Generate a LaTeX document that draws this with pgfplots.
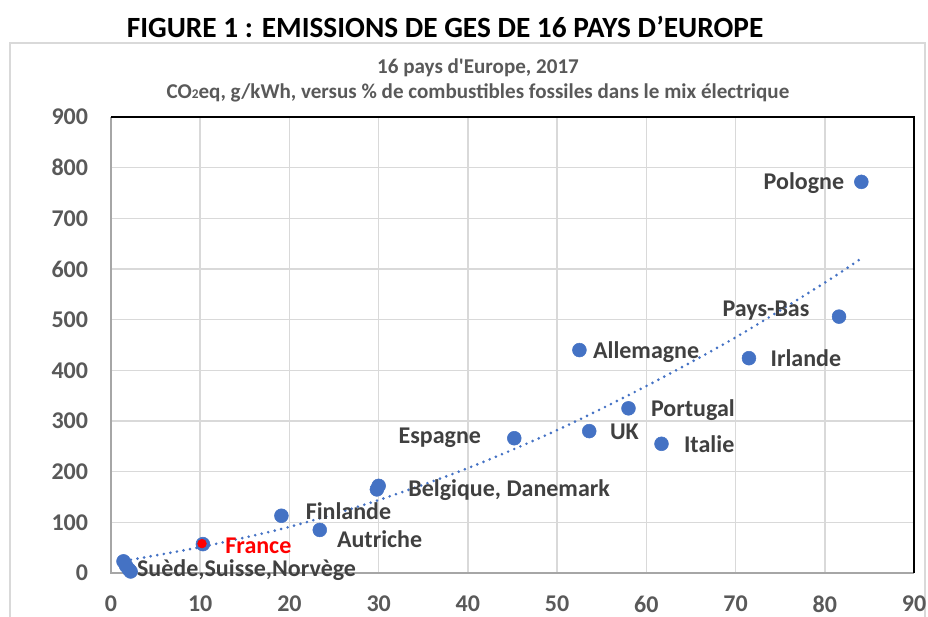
\documentclass[border=0pt]{standalone}
\usepackage{fontspec}
\setmainfont{Carlito}
\newfontfamily\plainfont{Carlito}[Ligatures=TeXOff]
\usepackage{pgfplots}
\pgfplotsset{compat=1.18}
\definecolor{mblue}{HTML}{4472C4}
\definecolor{tgray}{HTML}{595959}
\definecolor{lgray}{HTML}{404040}
\definecolor{gridc}{HTML}{D9D9D9}
\newcommand{\sq}{{\plainfont\bfseries '}}
\begin{document}
\begin{tikzpicture}
\path[use as bounding box] (0,0) rectangle (696pt,462.75pt);
\draw[gridc, line width=1pt] (7.5pt,-20pt) -- (7.5pt,430.5pt) -- (693.75pt,430.5pt) -- (693.75pt,-20pt);
\node[font=\fontsize{22}{26}\selectfont\bfseries] at (333.75pt,442.5pt) {FIGURE 1 : EMISSIONS DE GES DE 16 PAYS D’EUROPE};
\node[font=\fontsize{15.8}{18}\selectfont\bfseries, text=tgray] at (358.5pt,411.75pt) {16 pays d\sq Europe, 2017};
\node[font=\fontsize{15.8}{18}\selectfont\bfseries, text=tgray] at (358.5pt,393pt) {CO{\fontsize{10}{12}\selectfont 2}eq, g/kWh, versus \% de combustibles fossiles dans le mix électrique};
\begin{axis}[
  at={(83.25pt,33pt)}, anchor=south west,
  width=602.25pt, height=342pt, scale only axis,
  xmin=0, xmax=90, ymin=0, ymax=900,
  xtick={0,10,...,90}, ytick={0,100,...,900},
  grid=major, grid style={gridc, line width=1.1pt},
  major tick length=0pt,
  axis line style={draw=none},
  /pgf/number format/assume math mode=true,
  tick label style={font=\fontsize{18}{20}\selectfont\bfseries, text=tgray},
  xticklabel style={anchor=north, inner sep=0pt, yshift=-17pt},
  yticklabel style={anchor=east, inner sep=0pt, xshift=-17pt},
  clip=false,
]
\draw[gray!70, line width=1pt] (rel axis cs:0,1) -- (rel axis cs:0,0) -- (rel axis cs:1,0);
\draw[black, line width=1.5pt] (rel axis cs:0,1) -- (rel axis cs:1,1) -- (rel axis cs:1,0);
% trend line
\addplot[mblue, line width=2.2pt, dash pattern=on 0pt off 5pt, line cap=round, smooth] coordinates {
(1.5,24) (10,51) (20,91) (30,144) (40,207) (50,282) (60,369) (70,465) (80,573) (84,620)};
% data
\addplot[only marks, mark=*, mark size=5.2pt, mark options={draw=mblue, fill=mblue}] coordinates {
(1.4,23) (1.7,14) (2.0,7) (2.2,3)
(10.3,57)
(19.1,113) (23.4,85)
(29.8,165) (30.0,172)
(45.2,266) (52.5,440) (53.6,280) (58.0,325) (61.7,255)
(71.5,424) (81.6,506) (84.1,772)};
\addplot[only marks, mark=*, mark size=3.3pt, mark options={draw=red, fill=red}] coordinates {(10.2,58)};
\begin{scope}[every node/.style={font=\fontsize{18}{20}\selectfont\bfseries, text=lgray, inner sep=0pt}]
\node[anchor=east] at (axis cs:82.2,770) {Pologne};
\node[anchor=east] at (axis cs:78.3,517) {Pays-Bas};
\node[anchor=west] at (axis cs:73.9,424) {Irlande};
\node[anchor=west] at (axis cs:54.0,436) {Allemagne};
\node[anchor=west] at (axis cs:60.5,322) {Portugal};
\node[anchor=west] at (axis cs:55.9,278) {UK};
\node[anchor=west] at (axis cs:64.2,255) {Italie};
\node[anchor=east] at (axis cs:41.5,266) {Espagne};
\node[anchor=west] at (axis cs:33.3,164) {Belgique, Danemark};
\node[anchor=west] at (axis cs:21.8,122) {Finlande};
\node[anchor=west] at (axis cs:25.3,67) {Autriche};
\node[anchor=west, text=red] at (axis cs:12.8,53) {France};
\node[anchor=west] at (axis cs:2.9,6) {Suède,Suisse,Norvège};
\end{scope}
\end{axis}
\end{tikzpicture}
\end{document}
